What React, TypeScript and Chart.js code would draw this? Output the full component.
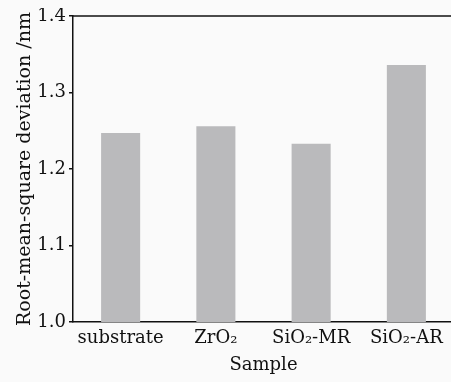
import React, { useEffect, useRef } from "react";
import { Chart, registerables } from "chart.js";

Chart.register(...registerables);

const categories = ["substrate", "ZrO₂", "SiO₂-MR", "SiO₂-AR"];
const rmsValues = [1.247, 1.256, 1.233, 1.336];
const yMin = 1.0;
const yMax = 1.4;
const yStep = 0.1;
const xTitle = "Sample";
const yTitle = "Root-mean-square deviation /nm";

const FONT = "'DejaVu Serif', serif";

const frame = {
  id: "frame",
  beforeDraw(chart: any) {
    const { ctx, width, height } = chart;
    ctx.save();
    ctx.fillStyle = "#fafafa";
    ctx.fillRect(0, 0, width, height);
    ctx.restore();
  },
  afterDraw(chart: any) {
    const { ctx, chartArea } = chart;
    ctx.save();
    ctx.strokeStyle = "#111";
    ctx.lineWidth = 1.5;
    ctx.beginPath();
    ctx.moveTo(chartArea.left, chartArea.top);
    ctx.lineTo(chartArea.right, chartArea.top);
    ctx.stroke();
    ctx.restore();
  },
};

export default function App() {
  const ref = useRef<HTMLCanvasElement>(null);
  useEffect(() => {
    document.body.style.background = "#fafafa";
    document.body.style.overflow = "hidden";
    const chart = new Chart(ref.current!, {
      type: "bar",
      data: {
        labels: categories,
        datasets: [
          {
            data: rmsValues,
            backgroundColor: "#bababc",
            borderWidth: 0,
            barPercentage: 0.41,
            categoryPercentage: 1,
          },
        ],
      },
      options: {
        responsive: false,
        animation: false,
        layout: { padding: { top: 8, right: 0, left: 0, bottom: 0 } },
        plugins: { legend: { display: false }, tooltip: { enabled: false } },
        scales: {
          x: {
            grid: { display: false, drawTicks: false },
            border: { display: true, color: "#111", width: 1.5 },
            ticks: { color: "#111", font: { family: FONT, size: 18 }, padding: 6, maxRotation: 0, autoSkip: false },
            title: { display: true, text: xTitle, color: "#111", font: { family: FONT, size: 18 }, padding: { top: 0, bottom: 6 } },
            afterFit(scale: any) {
              scale.height = 60;
              scale.paddingLeft = 0;
              scale.paddingRight = 0;
            },
          },
          y: {
            min: yMin,
            max: yMax,
            grid: { drawOnChartArea: false, drawTicks: true, tickLength: 4, color: "#111", lineWidth: 1.5 },
            border: { display: true, color: "#111", width: 1.5 },
            ticks: {
              stepSize: yStep,
              color: "#111",
              font: { family: FONT, size: 18 },
              padding: 3,
              callback: (v: any) => Number(v).toFixed(1),
            },
            title: { display: true, text: yTitle, color: "#111", font: { family: FONT, size: 19 }, padding: { top: 6, bottom: 0 } },
            afterFit(scale: any) {
              scale.width = 65;
              scale.paddingTop = 0;
              scale.paddingBottom = 0;
            },
          },
        },
      },
      plugins: [frame],
    });
    return () => chart.destroy();
  }, []);
  return (
    <canvas
      ref={ref}
      width={446}
      height={374}
      style={{ display: "block", position: "absolute", left: 8, top: 8, width: 446, height: 374 }}
    />
  );
}
